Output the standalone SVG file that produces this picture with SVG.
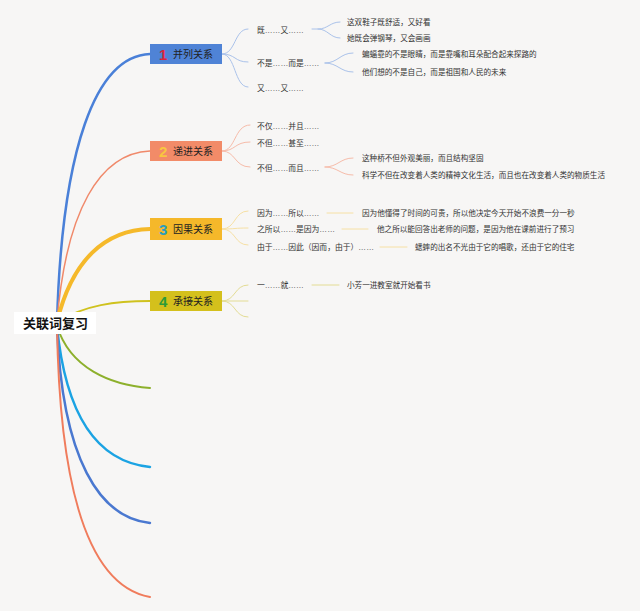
<svg xmlns="http://www.w3.org/2000/svg" width="640" height="611" viewBox="0 0 640 611">
<style>
text{font-family:"Liberation Sans","Noto Sans CJK SC",sans-serif;fill:#333}
.s{font-size:7.8px}
.l{font-size:7.6px}
.bt{font-size:10px;fill:#222}
.num{font-size:15px;font-weight:bold}
.root{font-size:13px;font-weight:bold;fill:#111}
.c{fill:none;stroke-linecap:round}
.b1{stroke:#aac2ea;stroke-width:1}
.b2{stroke:#f6bcaa;stroke-width:1}
.b3{stroke:#f6e0a4;stroke-width:1}
.b4{stroke:#e3dc94;stroke-width:1}
</style>
<rect width="640" height="611" fill="#f7f6f5"/>
<g id="connectors">
<path class="c" d="M57,322 C62,150 95,56 150,54" stroke="#4a80d8" stroke-width="2.5"/>
<path class="c" d="M57,322 C66,210 100,153 150,151" stroke="#f0896a" stroke-width="1.5"/>
<path class="c" d="M57,322 C72,260 105,230 150,229" stroke="#f5b92a" stroke-width="4"/>
<path class="c" d="M57,322 C85,305 115,301 150,301" stroke="#cfc21e" stroke-width="2"/>
<path class="c" d="M57,326 C70,368 110,385 150,388" stroke="#8db02c" stroke-width="2"/>
<path class="c" d="M57,326 C66,420 100,462 150,467" stroke="#1ba3e3" stroke-width="2.5"/>
<path class="c" d="M57,326 C62,460 100,518 150,523" stroke="#4a78d0" stroke-width="2.5"/>
<path class="c" d="M57,326 C60,520 100,588 150,597" stroke="#f07c5c" stroke-width="2"/>
<path class="c b1" d="M222,54 C236,54 234,29 248,29"/>
<path class="c b1" d="M222,54 C236,54 234,62 248,62"/>
<path class="c b1" d="M222,54 C236,54 234,87 248,87"/>
<path class="c b1" d="M312,29 L318,29 C328,29 330,22 340,22"/>
<path class="c b1" d="M318,29 C328,29 330,38 340,38"/>
<path class="c b1" d="M325,63 C338,63 340,53 353,53"/>
<path class="c b1" d="M325,63 C338,63 340,72 353,72"/>
<path class="c b2" d="M222,151 C236,151 234,125 250,125"/>
<path class="c b2" d="M222,151 C236,151 234,142 250,142"/>
<path class="c b2" d="M222,151 C236,151 234,167 250,167"/>
<path class="c b2" d="M325,167 C338,167 340,158 353,158"/>
<path class="c b2" d="M325,167 C338,167 340,175 353,175"/>
<path class="c b3" d="M222,229 C236,229 234,211 248,211"/>
<path class="c b3" d="M222,229 C236,229 234,228 248,228"/>
<path class="c b3" d="M222,229 C236,229 234,245 248,245"/>
<path class="c b3" d="M327,213 L353,213"/>
<path class="c b3" d="M342,229 L368,229"/>
<path class="c b3" d="M380,247 L407,247"/>
<path class="c b4" d="M222,301 C236,301 234,285 248,285"/>
<path class="c b4" d="M222,301 L248,301"/>
<path class="c b4" d="M222,301 C236,301 234,317 248,317"/>
<path class="c b4" d="M312,285 L339,285"/>
</g>
<g id="root">
<rect x="14" y="312" width="82" height="22" fill="#ffffff"/>
<text class="root" x="23" y="328">关联词复习</text>
</g>
<g id="topic1">
<rect x="150" y="44" width="72" height="20" fill="#4f83d6"/>
<text class="num" x="159" y="60" style="fill:#d8253f">1</text>
<text class="bt" x="173" y="58">并列关系</text>
</g>
<g id="topic2">
<rect x="150" y="141" width="72" height="20" fill="#f28b68"/>
<text class="num" x="159" y="157" style="fill:#f8c640">2</text>
<text class="bt" x="173" y="155">递进关系</text>
</g>
<g id="topic3">
<rect x="150" y="218" width="72" height="22" fill="#f5b82a"/>
<text class="num" x="159" y="235" style="fill:#2a9dbf">3</text>
<text class="bt" x="173" y="233">因果关系</text>
</g>
<g id="topic4">
<rect x="150" y="291" width="72" height="20" fill="#d4c01c"/>
<text class="num" x="159" y="307" style="fill:#2e9a3a">4</text>
<text class="bt" x="173" y="305">承接关系</text>
</g>
<g id="sub1">
<text class="s" x="257" y="33">既……又……</text>
<text class="s" x="257" y="66">不是……而是……</text>
<text class="s" x="257" y="91">又……又……</text>
</g>
<g id="leaf1">
<text class="l" x="347" y="25">这双鞋子既舒适，又好看</text>
<text class="l" x="347" y="41">她既会弹钢琴，又会画画</text>
<text class="l" x="362" y="57">蝙蝠靠的不是眼睛，而是靠嘴和耳朵配合起来探路的</text>
<text class="l" x="362" y="75">他们想的不是自己，而是祖国和人民的未来</text>
</g>
<g id="sub2">
<text class="s" x="257" y="129">不仅……并且……</text>
<text class="s" x="257" y="146">不但……甚至……</text>
<text class="s" x="257" y="171">不但……而且……</text>
</g>
<g id="leaf2">
<text class="l" x="362" y="161">这种桥不但外观美丽，而且结构坚固</text>
<text class="l" x="362" y="178">科学不但在改变着人类的精神文化生活，而且也在改变着人类的物质生活</text>
</g>
<g id="sub3">
<text class="s" x="257" y="216">因为……所以……</text>
<text class="s" x="257" y="232">之所以……是因为……</text>
<text class="s" x="257" y="250">由于……因此（因而，由于）……</text>
</g>
<g id="leaf3">
<text class="l" x="362" y="216">因为他懂得了时间的可贵，所以他决定今天开始不浪费一分一秒</text>
<text class="l" x="377" y="232">他之所以能回答出老师的问题，是因为他在课前进行了预习</text>
<text class="l" x="415" y="250">蟋蟀的出名不光由于它的唱歌，还由于它的住宅</text>
</g>
<g id="sub4">
<text class="s" x="257" y="288">一……就……</text>
</g>
<g id="leaf4">
<text class="l" x="347" y="288">小芳一进教室就开始看书</text>
</g>
</svg>
